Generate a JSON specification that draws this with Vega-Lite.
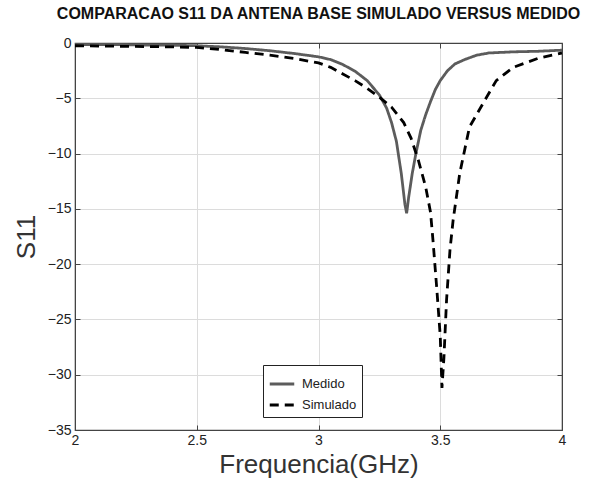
{
  "$schema": "https://vega.github.io/schema/vega-lite/v6.json",
  "width": 487,
  "height": 387,
  "autosize": {"type": "none"},
  "padding": {"left": 75, "top": 43, "right": 45, "bottom": 59},
  "background": "white",
  "title": {
    "text": "COMPARACAO S11 DA ANTENA BASE SIMULADO VERSUS MEDIDO",
    "font": "Liberation Sans",
    "fontSize": 16,
    "fontWeight": "bold",
    "color": "#111",
    "anchor": "middle",
    "offset": 14
  },
  "config": {
    "view": {"stroke": "#444", "strokeWidth": 1.2},
    "axis": {
      "labelFont": "Liberation Sans",
      "titleFont": "Liberation Sans",
      "labelFontSize": 14,
      "labelColor": "#222",
      "titleFontSize": 26,
      "titleFontWeight": "normal",
      "titleColor": "#333",
      "gridColor": "#dcdcdc",
      "gridWidth": 1,
      "domainColor": "#444",
      "tickColor": "#444",
      "tickSize": -5
    }
  },
  "data": {
    "values": [
      {"f": 2.0, "s": -0.15, "serie": "Medido"},
      {"f": 2.1, "s": -0.15, "serie": "Medido"},
      {"f": 2.2, "s": -0.15, "serie": "Medido"},
      {"f": 2.3, "s": -0.2, "serie": "Medido"},
      {"f": 2.4, "s": -0.2, "serie": "Medido"},
      {"f": 2.5, "s": -0.25, "serie": "Medido"},
      {"f": 2.6, "s": -0.35, "serie": "Medido"},
      {"f": 2.7, "s": -0.5, "serie": "Medido"},
      {"f": 2.8, "s": -0.7, "serie": "Medido"},
      {"f": 2.9, "s": -0.95, "serie": "Medido"},
      {"f": 3.0, "s": -1.25, "serie": "Medido"},
      {"f": 3.05, "s": -1.5, "serie": "Medido"},
      {"f": 3.1, "s": -1.95, "serie": "Medido"},
      {"f": 3.15, "s": -2.55, "serie": "Medido"},
      {"f": 3.2, "s": -3.4, "serie": "Medido"},
      {"f": 3.25, "s": -4.7, "serie": "Medido"},
      {"f": 3.28, "s": -5.9, "serie": "Medido"},
      {"f": 3.3, "s": -7.2, "serie": "Medido"},
      {"f": 3.32, "s": -8.9, "serie": "Medido"},
      {"f": 3.34, "s": -11.8, "serie": "Medido"},
      {"f": 3.355, "s": -14.6, "serie": "Medido"},
      {"f": 3.362, "s": -15.4, "serie": "Medido"},
      {"f": 3.37, "s": -14.0, "serie": "Medido"},
      {"f": 3.385, "s": -11.8, "serie": "Medido"},
      {"f": 3.4, "s": -10.0, "serie": "Medido"},
      {"f": 3.42, "s": -7.9, "serie": "Medido"},
      {"f": 3.44, "s": -6.5, "serie": "Medido"},
      {"f": 3.46, "s": -5.3, "serie": "Medido"},
      {"f": 3.48, "s": -4.2, "serie": "Medido"},
      {"f": 3.5, "s": -3.4, "serie": "Medido"},
      {"f": 3.53, "s": -2.5, "serie": "Medido"},
      {"f": 3.56, "s": -1.9, "serie": "Medido"},
      {"f": 3.6, "s": -1.5, "serie": "Medido"},
      {"f": 3.65, "s": -1.1, "serie": "Medido"},
      {"f": 3.7, "s": -0.9, "serie": "Medido"},
      {"f": 3.8, "s": -0.8, "serie": "Medido"},
      {"f": 3.9, "s": -0.75, "serie": "Medido"},
      {"f": 4.0, "s": -0.65, "serie": "Medido"},
      {"f": 2.0, "s": -0.25, "serie": "Simulado"},
      {"f": 2.2, "s": -0.3, "serie": "Simulado"},
      {"f": 2.4, "s": -0.35, "serie": "Simulado"},
      {"f": 2.5, "s": -0.4, "serie": "Simulado"},
      {"f": 2.6, "s": -0.6, "serie": "Simulado"},
      {"f": 2.7, "s": -0.85, "serie": "Simulado"},
      {"f": 2.8, "s": -1.1, "serie": "Simulado"},
      {"f": 2.9, "s": -1.4, "serie": "Simulado"},
      {"f": 3.0, "s": -1.8, "serie": "Simulado"},
      {"f": 3.05, "s": -2.2, "serie": "Simulado"},
      {"f": 3.1, "s": -2.8, "serie": "Simulado"},
      {"f": 3.15, "s": -3.4, "serie": "Simulado"},
      {"f": 3.2, "s": -4.1, "serie": "Simulado"},
      {"f": 3.25, "s": -4.9, "serie": "Simulado"},
      {"f": 3.3, "s": -5.8, "serie": "Simulado"},
      {"f": 3.35, "s": -7.2, "serie": "Simulado"},
      {"f": 3.38, "s": -8.6, "serie": "Simulado"},
      {"f": 3.41, "s": -10.6, "serie": "Simulado"},
      {"f": 3.44, "s": -13.0, "serie": "Simulado"},
      {"f": 3.46, "s": -15.3, "serie": "Simulado"},
      {"f": 3.47, "s": -17.8, "serie": "Simulado"},
      {"f": 3.485, "s": -22.0, "serie": "Simulado"},
      {"f": 3.5, "s": -26.5, "serie": "Simulado"},
      {"f": 3.507, "s": -31.2, "serie": "Simulado"},
      {"f": 3.515, "s": -28.5, "serie": "Simulado"},
      {"f": 3.526, "s": -23.2, "serie": "Simulado"},
      {"f": 3.54, "s": -18.7, "serie": "Simulado"},
      {"f": 3.553, "s": -16.0, "serie": "Simulado"},
      {"f": 3.58, "s": -11.8, "serie": "Simulado"},
      {"f": 3.62, "s": -7.6, "serie": "Simulado"},
      {"f": 3.68, "s": -5.3, "serie": "Simulado"},
      {"f": 3.73, "s": -3.4, "serie": "Simulado"},
      {"f": 3.8, "s": -2.2, "serie": "Simulado"},
      {"f": 3.9, "s": -1.4, "serie": "Simulado"},
      {"f": 4.0, "s": -0.9, "serie": "Simulado"}
    ]
  },
  "layer": [
    {
      "mark": {"type": "line", "strokeWidth": 2.8, "clip": true},
      "encoding": {
        "x": {
          "field": "f",
          "type": "quantitative",
          "scale": {"domain": [2, 4], "nice": false},
          "axis": {"values": [2, 2.5, 3, 3.5, 4], "format": "~g", "title": "Frequencia(GHz)", "labelPadding": 8, "titlePadding": 4, "labelFlush": false}
        },
        "y": {
          "field": "s",
          "type": "quantitative",
          "scale": {"domain": [-35, 0], "nice": false},
          "axis": {"values": [0, -5, -10, -15, -20, -25, -30, -35], "title": "S11", "labelPadding": 9, "titlePadding": 8}
        },
        "color": {
          "field": "serie",
          "type": "nominal",
          "scale": {"domain": ["Medido", "Simulado"], "range": ["#5c5c5c", "#000000"]},
          "legend": {
            "title": null,
            "orient": "none",
            "legendX": 188,
            "legendY": 322,
            "fillColor": "white",
            "strokeColor": "#222",
            "padding": 5,
            "symbolType": "stroke",
            "symbolSize": 600,
            "symbolStrokeWidth": 3,
            "labelFont": "Liberation Sans",
            "labelFontSize": 13,
            "labelColor": "#222",
            "labelOffset": 6,
            "rowPadding": 0
          }
        },
        "strokeDash": {
          "field": "serie",
          "type": "nominal",
          "scale": {"domain": ["Medido", "Simulado"], "range": [[1, 0], [9, 6]]},
          "legend": null
        }
      }
    },
    {
      "mark": {"type": "point", "opacity": 0},
      "encoding": {
        "x": {
          "field": "f",
          "type": "quantitative",
          "axis": {"orient": "top", "values": [2, 2.5, 3, 3.5, 4], "labels": false, "title": null, "grid": false}
        },
        "y": {
          "field": "s",
          "type": "quantitative",
          "axis": {"orient": "right", "values": [0, -5, -10, -15, -20, -25, -30, -35], "labels": false, "title": null, "grid": false}
        }
      }
    }
  ],
  "resolve": {"axis": {"x": "independent", "y": "independent"}}
}
